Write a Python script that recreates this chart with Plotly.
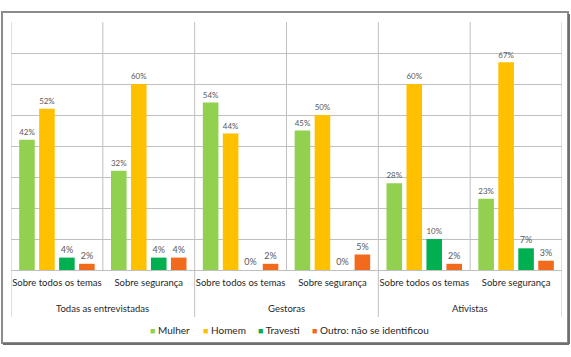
import plotly.graph_objects as go

group_labels = ["Todas as entrevistadas", "Gestoras", "Ativistas"]
subcats = ["Sobre todos os temas", "Sobre segurança", "Sobre todos os temas", "Sobre segurança", "Sobre todos os temas", "Sobre segurança"]

mulher = [42, 32, 54, 45, 28, 23]
homem = [52, 60, 44, 50, 60, 67]
travesti = [4, 4, 0, 0, 10, 7]
outro = [2, 4, 2, 5, 2, 3]

series = [
    ("Mulher", mulher, "#92D050"),
    ("Homem", homem, "#FFC000"),
    ("Travesti", travesti, "#00B050"),
    ("Outro: não se identificou", outro, "#F26A1B"),
]

xpos = list(range(len(subcats)))
L, T = 11, 22
W, H = 551, 248  # plot area in px

fig = go.Figure()
for name, vals, color in series:
    fig.add_trace(go.Bar(
        x=xpos, y=vals, name=name,
        marker=dict(color=color, line=dict(width=0)),
        text=[f"{v}%" for v in vals], textposition="outside",
        textfont=dict(size=9, color="#595959", family="Lato"),
        cliponaxis=False, showlegend=False,
    ))

grid = "#C0C0C0"
shapes = []
for i in range(1, len(subcats)):
    b = i - 0.5
    y0 = -47/H if i % 2 == 0 else 0
    shapes.append(dict(type="line", xref="x", yref="paper", x0=b, x1=b,
                       y0=y0, y1=1, line=dict(color=grid, width=1)))
for b in [-0.5, len(subcats) - 0.5]:
    shapes.append(dict(type="line", xref="x", yref="paper", x0=b, x1=b,
                       y0=-47/H, y1=1, line=dict(color=grid, width=1)))
# outer frame with shadow
shapes.append(dict(type="rect", xref="paper", yref="paper",
                   x0=-9/W, x1=557/W, y0=-73/H, y1=258/H,
                   line=dict(color="#8C8C8C", width=2), fillcolor="rgba(0,0,0,0)"))
shapes.append(dict(type="line", xref="paper", yref="paper",
                   x0=-8/W, x1=558/W, y0=-74/H, y1=-74/H,
                   line=dict(color="#707070", width=2)))
shapes.append(dict(type="line", xref="paper", yref="paper",
                   x0=558/W, x1=558/W, y0=-74/H, y1=256/H,
                   line=dict(color="#707070", width=2)))

annotations = []
for gi, g in enumerate(group_labels):
    annotations.append(dict(text=g, x=gi * 2 + 0.5, xref="x", y=-38/H, yref="paper",
                            showarrow=False, xanchor="center", yanchor="middle",
                            font=dict(size=9.5, color="#262626", family="Lato")))
# legend entries
legend_x = [148, 201, 256, 310]
for (name, vals, color), lx in zip(series, legend_x):
    annotations.append(dict(
        text=f"<span style='color:{color};font-size:9px'>■</span> {name}",
        x=(lx - L) / W, xref="paper", y=-60/H, yref="paper",
        showarrow=False, xanchor="left", yanchor="middle",
        font=dict(size=10, color="#262626", family="Lato")))

fig.update_layout(
    width=571, height=357,
    margin=dict(l=L, r=9, t=T, b=87),
    paper_bgcolor="white", plot_bgcolor="white",
    barmode="group", bargap=0.13, bargroupgap=0.22,
    font=dict(family="Lato", size=10, color="#262626"),
    showlegend=False,
    xaxis=dict(range=[-0.5, len(subcats) - 0.5], tickmode="array", tickvals=xpos,
               ticktext=subcats, tickangle=0, showgrid=False, showline=True,
               linecolor=grid, ticks="", zeroline=False, ticklabelstandoff=4,
               tickfont=dict(size=9.5, color="#262626")),
    yaxis=dict(range=[0, 80], dtick=10, showgrid=True, gridcolor=grid,
               showticklabels=False, zeroline=False, showline=False),
    shapes=shapes,
    annotations=annotations,
)

fig.write_html("out.html", config={"displayModeBar": False},
               post_script="document.body.style.margin='0';")
